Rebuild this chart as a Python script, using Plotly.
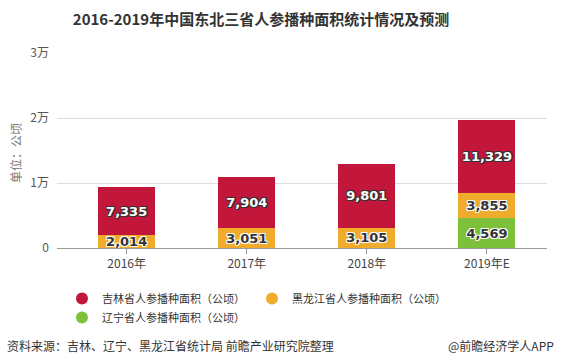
import plotly.graph_objects as go

categories = ["2016年", "2017年", "2018年", "2019年E"]
liaoning = [None, None, None, 4569]
heilongjiang = [2014, 3051, 3105, 3855]
jilin = [7335, 7904, 9801, 11329]
tick_vals = [0, 10000, 20000, 30000]
tick_text = ["0", "1万", "2万", "3万"]

names = ["吉林省人参播种面积（公顷）", "黑龙江省人参播种面积（公顷）", "辽宁省人参播种面积（公顷）"]
colors = ["#C3163B", "#EFAB2C", "#7DC13B"]

FONT = "Noto Sans CJK SC"
W, H = 561, 364
ML, MR, MT, MB = 57, 14, 53, 116
dark_shadow = "1px 1px 0 #333, -1px -1px 0 #333, 1px -1px 0 #333, -1px 1px 0 #333"
light_shadow = "1px 1px 0 #fff, -1px -1px 0 #fff, 1px -1px 0 #fff, -1px 1px 0 #fff"


def fmt(v):
    return "" if v is None else f"{v:,}"


fig = go.Figure()
series = [(liaoning, colors[2], "#333", light_shadow),
          (heilongjiang, colors[1], "#333", light_shadow),
          (jilin, colors[0], "#fff", dark_shadow)]
for vals, col, tcol, sh in series:
    fig.add_trace(go.Bar(
        x=categories, y=vals, showlegend=False,
        marker=dict(color=col, line=dict(width=0)), width=0.475,
        text=[fmt(v) for v in vals], textposition="inside", insidetextanchor="middle",
        constraintext="none", cliponaxis=False,
        textfont=dict(color=tcol, size=13, family="DejaVu Sans", weight="bold", shadow=sh),
        hoverinfo="skip",
    ))

# legend-only entries with round markers
for nm, col in zip(names, colors):
    fig.add_trace(go.Scatter(
        x=[None], y=[None], mode="markers", name=nm,
        marker=dict(symbol="circle", size=12, color=col),
    ))

fig.update_layout(
    barmode="stack",
    width=W, height=H,
    margin=dict(l=ML, r=MR, t=MT, b=MB, autoexpand=False),
    paper_bgcolor="white", plot_bgcolor="white",
    font=dict(family=FONT, color="#444"),
    title=dict(text="<b>2016-2019年中国东北三省人参播种面积统计情况及预测</b>",
               xref="container", x=261 / W, xanchor="center",
               yref="container", y=1 - 20 / H, yanchor="middle",
               font=dict(size=15, color="#333", family=FONT)),
    showlegend=True,
    legend=dict(orientation="h", xref="container", x=62 / W, xanchor="left",
                yref="container", y=1 - 284 / H, yanchor="top",
                traceorder="normal", font=dict(size=11, color="#333", family=FONT),
                entrywidth=145, entrywidthmode="pixels", tracegroupgap=0),
    xaxis=dict(range=[-0.58, 3.5], showline=True, linecolor="#999", linewidth=1,
               ticks="outside", ticklen=5, tickcolor="#999",
               tickfont=dict(size=12, color="#444", family=FONT), showgrid=False,
               fixedrange=True),
    yaxis=dict(range=[0, 30000], tickvals=tick_vals, ticktext=tick_text,
               gridcolor="#DDDDDD", gridwidth=1, zeroline=False,
               tickfont=dict(size=12, color="#555", family=FONT), ticklabelstandoff=7,
               fixedrange=True),
)

pw = W - ML - MR
ph = H - MT - MB


def px(x, y):
    return (x - ML) / pw, (H - MB - y) / ph


anns = [
    dict(text="单位：公顷", pos=(15, 153), xanchor="center", angle=-90, color="#777"),
    dict(text="资料来源：吉林、辽宁、黑龙江省统计局 前瞻产业研究院整理", pos=(5, 345),
         xanchor="left", angle=0, color="#333"),
    dict(text="@前瞻经济学人APP", pos=(556, 345), xanchor="right", angle=0, color="#333"),
]
for a in anns:
    x, y = px(*a["pos"])
    fig.add_annotation(text=a["text"], x=x, y=y, xref="paper", yref="paper",
                       showarrow=False, xanchor=a["xanchor"], yanchor="middle",
                       textangle=a["angle"],
                       font=dict(size=12, color=a["color"], family=FONT))

fig.write_html("out.html", config={"displayModeBar": False},
               post_script="document.body.style.margin='0';document.body.style.padding='0';")
